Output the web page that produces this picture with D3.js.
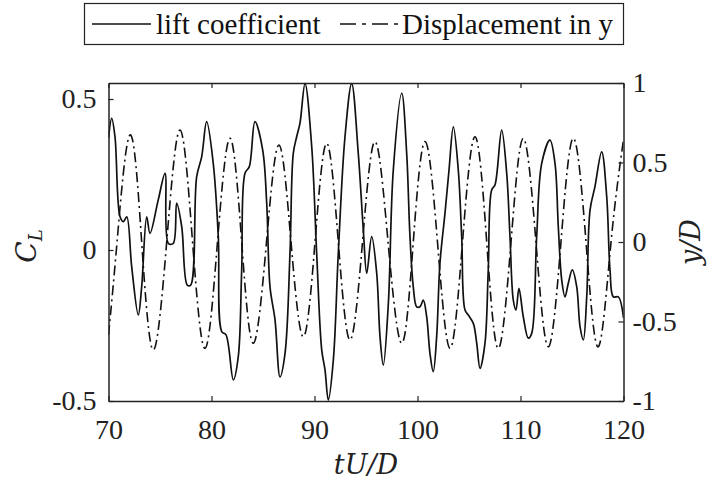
<!DOCTYPE html>
<html>
<head>
<meta charset="utf-8">
<script src="https://cdn.jsdelivr.net/npm/d3@7"></script>
<style>
  body { margin: 0; background: #fff; }
  svg { display: block; }
</style>
</head>
<body>
<svg id="chart" width="713" height="486"></svg>
<script>
// tick labels
const xTicks = [70, 80, 90, 100, 110, 120];
const clTicks = [-0.5, 0, 0.5];
const ydTicks = [-1, -0.5, 0, 0.5, 1];

// lift coefficient
const liftT = [70.00, 70.31, 70.63, 71.12, 71.44, 71.77, 72.25, 72.89, 73.22, 73.71, 74.03, 74.83, 75.49, 75.81, 76.29,
  76.62, 77.11, 77.65, 77.98, 78.56, 79.05, 79.53, 80.17, 80.66, 80.99, 81.41, 82.12, 82.60, 82.93, 83.25,
  83.67, 84.22, 84.97, 85.36, 85.68, 86.17, 86.65, 87.14, 87.62, 87.94, 88.27, 88.59, 89.08, 89.73, 90.21,
  90.70, 91.02, 91.34, 91.83, 92.31, 92.96, 93.61, 94.25, 94.74, 95.07, 95.55, 96.04, 96.36, 96.68, 97.17,
  97.65, 98.47, 98.95, 99.27, 99.59, 99.92, 100.24, 100.56, 100.89, 101.21, 101.53, 101.86, 102.18, 102.67, 103.06,
  103.48, 103.96, 104.29, 104.61, 104.93, 105.42, 105.75, 106.07, 106.55, 106.87, 107.20, 107.52, 108.17, 108.66, 108.98,
  109.30, 109.56, 109.85, 110.27, 110.76, 111.09, 111.57, 112.06, 112.86, 113.35, 113.67, 114.00, 114.32, 114.64, 115.03,
  115.46, 115.78, 116.10, 116.43, 116.75, 117.23, 117.88, 118.37, 118.69, 119.01, 119.50, 120.00];
const liftCL = [0.371, 0.436, 0.375, 0.110, 0.094, 0.110, -0.055, -0.215, -0.122, 0.110, 0.055, 0.166, 0.254, 0.022, 0.022,
  0.155, 0.077, -0.116, -0.116, 0.243, 0.309, 0.425, 0.287, 0.044, -0.270, -0.281, -0.430, -0.353, -0.066, 0.254,
  0.276, 0.425, 0.331, 0.155, -0.122, -0.232, -0.420, -0.342, -0.011, 0.320, 0.375, 0.420, 0.551, 0.342, -0.011,
  -0.331, -0.397, -0.497, -0.364, -0.011, 0.375, 0.551, 0.320, 0.066, -0.077, 0.044, -0.077, -0.287, -0.381, -0.177,
  0.265, 0.519, 0.320, 0.044, -0.122, -0.188, -0.188, -0.166, -0.221, -0.342, -0.403, -0.287, -0.044, 0.122, 0.265,
  0.408, 0.265, 0.044, -0.199, -0.215, -0.243, -0.309, -0.392, -0.309, -0.066, 0.199, 0.215, 0.397, 0.254, 0.044,
  -0.166, -0.199, -0.127, -0.221, -0.292, -0.276, 0.044, 0.287, 0.364, 0.287, 0.077, -0.099, -0.155, -0.110, -0.066,
  -0.122, -0.254, -0.298, -0.155, 0.132, 0.210, 0.325, 0.177, -0.066, -0.155, -0.155, -0.225];

// displacement in y (y/D)
const dispT = [70.00, 70.83, 72.09, 73.22, 74.35, 75.65, 76.94, 78.16, 79.37, 80.58, 81.80, 82.93, 84.06, 85.34, 86.55,
  87.72, 88.91, 90.05, 91.18, 92.31, 93.45, 94.66, 95.87, 97.14, 98.47, 99.59, 100.73, 101.94, 103.16, 104.37,
  105.58, 106.72, 107.84, 109.08, 110.27, 111.50, 112.70, 113.93, 115.13, 116.36, 117.55, 118.79, 120.00];
const dispY = [-0.585, 0, 0.673, 0, -0.679, 0, 0.704, 0, -0.669, 0, 0.652, 0, -0.637, 0, 0.610,
  0, -0.596, 0, 0.621, 0, -0.616, 0, 0.631, 0, -0.637, 0, 0.631, 0, -0.669, 0,
  0.662, 0, -0.669, 0, 0.652, 0, -0.659, 0, 0.652, 0, -0.659, 0, 0.645];

const svg = d3.select("#chart");
const pLeft = 108.5, pRight = 623.5, pTop = 83, pBottom = 401;

const x = d3.scaleLinear().domain([70, 120]).range([pLeft, pRight]);
const yL = d3.scaleLinear().domain([-0.5, 0.553]).range([pBottom, pTop]);
const yR = d3.scaleLinear().domain([-1, 1]).range([pBottom, pTop]);

const lift = liftT.map((t, i) => ({t: t, v: liftCL[i]}));
const disp = dispT.map((t, i) => ({t: t, v: dispY[i]}));

svg.append("clipPath").attr("id", "clip")
  .append("rect").attr("x", pLeft).attr("y", pTop - 1).attr("width", pRight - pLeft).attr("height", pBottom - pTop + 2);

const plot = svg.append("g").attr("clip-path", "url(#clip)");

plot.append("path").datum(disp)
  .attr("fill", "none").attr("stroke", "#111").attr("stroke-width", 1.6)
  .attr("stroke-dasharray", "10,4,2,4")
  .attr("d", d3.line().x(d => x(d.t)).y(d => yR(d.v)).curve(d3.curveNatural));

plot.append("path").datum(lift)
  .attr("fill", "none").attr("stroke", "#111").attr("stroke-width", 1.7)
  .attr("d", d3.line().x(d => x(d.t)).y(d => yL(d.v)).curve(d3.curveCatmullRom.alpha(0.5)));

// axes (ticks point inward), plain hyphen for negatives like the original
const fmt = d => String(d);
const gx = svg.append("g").attr("transform", `translate(0,${pBottom})`)
  .call(d3.axisBottom(x).tickValues(xTicks).tickSizeInner(-5).tickSizeOuter(0).tickPadding(18).tickFormat(fmt));
const gxTop = svg.append("g").attr("transform", `translate(0,${pTop})`)
  .call(d3.axisTop(x).tickValues(xTicks).tickSizeInner(-5).tickSizeOuter(0).tickFormat(""));
const gl = svg.append("g").attr("transform", `translate(${pLeft},0)`)
  .call(d3.axisLeft(yL).tickValues(clTicks).tickSizeInner(-5).tickSizeOuter(0).tickPadding(12).tickFormat(fmt));
const gr = svg.append("g").attr("transform", `translate(${pRight},0)`)
  .call(d3.axisRight(yR).tickValues(ydTicks).tickSizeInner(-5).tickSizeOuter(0).tickPadding(9).tickFormat(fmt));

[gx, gxTop, gl, gr].forEach(g => {
  g.attr("font-family", "'Liberation Serif', serif").attr("font-size", 28);
  g.select(".domain").attr("stroke", "#222").attr("stroke-width", 1.5);
  g.selectAll(".tick line").attr("stroke", "#222").attr("stroke-width", 1.2);
  g.selectAll(".tick text").attr("fill", "#222");
});
gx.selectAll(".tick text").attr("dy", "0.71em");

// labels
const mathFont = "'DejaVu Serif', serif";
svg.append("text")
  .attr("transform", `translate(${(pLeft + pRight) / 2},474)`)
  .attr("text-anchor", "middle")
  .attr("font-family", mathFont).attr("font-style", "italic").attr("font-size", 27).attr("fill", "#222")
  .text("tU/D");

const cl = svg.append("text")
  .attr("transform", "translate(36,246) rotate(-90)")
  .attr("text-anchor", "middle")
  .attr("font-family", mathFont).attr("font-style", "italic").attr("font-size", 28).attr("fill", "#222");
cl.append("tspan").text("C");
cl.append("tspan").attr("font-size", 18).attr("dy", 6).text("L");

svg.append("text")
  .attr("transform", "translate(700,242) rotate(-90)")
  .attr("text-anchor", "middle")
  .attr("font-family", mathFont).attr("font-style", "italic").attr("font-size", 27).attr("fill", "#222")
  .text("y/D");

// legend
const leg = svg.append("g");
leg.append("rect").attr("x", 84.5).attr("y", 3.5).attr("width", 539).attr("height", 41)
  .attr("fill", "#fff").attr("stroke", "#222").attr("stroke-width", 1.2);
leg.append("line").attr("x1", 92).attr("x2", 151).attr("y1", 24).attr("y2", 24)
  .attr("stroke", "#111").attr("stroke-width", 1.7);
leg.append("text").attr("x", 156).attr("y", 34)
  .attr("font-family", "'Liberation Serif', serif").attr("font-size", 29).attr("fill", "#111")
  .text("lift coefficient");
leg.append("line").attr("x1", 340).attr("x2", 399).attr("y1", 24).attr("y2", 24)
  .attr("stroke", "#111").attr("stroke-width", 1.7).attr("stroke-dasharray", "16,6,4,6");
leg.append("text").attr("x", 402).attr("y", 34)
  .attr("font-family", "'Liberation Serif', serif").attr("font-size", 29).attr("fill", "#111")
  .text("Displacement in y");
</script>
</body>
</html>
